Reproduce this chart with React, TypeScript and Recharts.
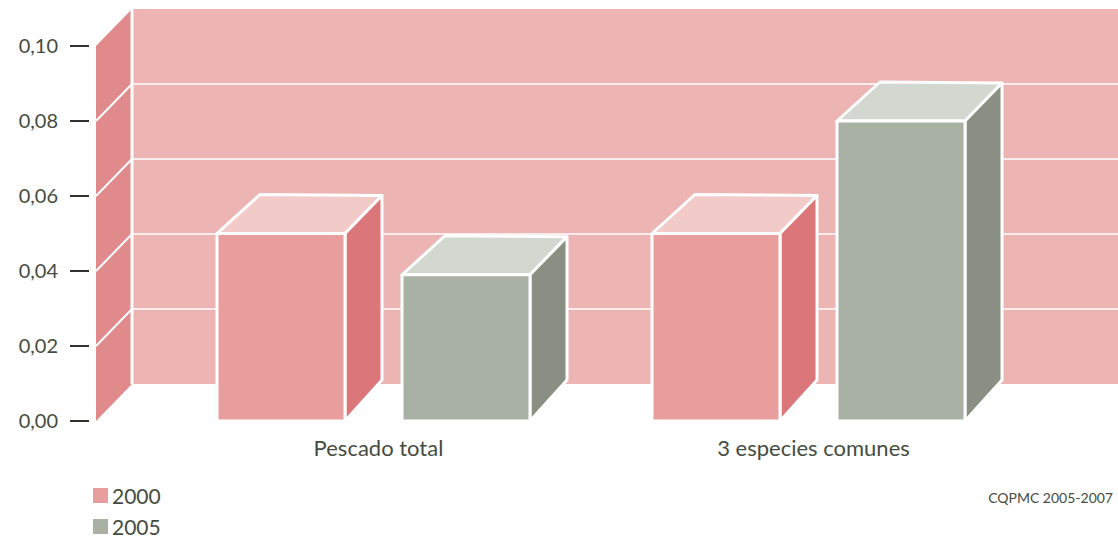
import React from 'react';
import { BarChart, Bar, XAxis, YAxis, CartesianGrid, ReferenceArea } from 'recharts';

const categories = ['Pescado total', '3 especies comunes'];
const values2000 = [0.05, 0.05];
const values2005 = [0.039, 0.08];
const yTicks = [0, 0.02, 0.04, 0.06, 0.08, 0.1];

const chartData = categories.map((name, i) => ({
  name,
  y2000: values2000[i],
  y2005: values2005[i],
}));

const CHART_W = 1118;
const CHART_H = 540;
const X_PAD = 60;
const WALL_DX = 36;
const WALL_DY = -37;
const TEXT = '#454c3f';
const FONT = 'Lato, "Open Sans", sans-serif';

const COLORS: Record<string, { front: string; side: string; top: string }> = {
  y2000: { front: '#e79e9d', side: '#db777a', top: '#f2cbc8' },
  y2005: { front: '#a9b1a5', side: '#899083', top: '#d2d7d0' },
};

// back wall + left wall of the 3D box (area rect excludes the axis padding)
const Walls = (props: any) => {
  const { y, width, height } = props;
  const x = props.x - X_PAD;
  const bottom = y + height;
  return (
    <g>
      <rect x={x + WALL_DX} y={y + WALL_DY} width={width + 2 * X_PAD + 40} height={height} fill="#ecb4b2" />
      <polygon
        points={`${x},${y} ${x + WALL_DX},${y + WALL_DY} ${x + WALL_DX},${bottom + WALL_DY} ${x},${bottom}`}
        fill="#e08a8c"
      />
      <line x1={x + WALL_DX} y1={y + WALL_DY} x2={x + WALL_DX} y2={bottom + WALL_DY} stroke="#fff" strokeWidth={3} />
    </g>
  );
};

const GridLine = (props: any) => {
  const { x1, y1, index } = props;
  if (index === 0 || index === yTicks.length - 1) return <g key={`g-${index}`} />;
  return (
    <g key={`g-${index}`}>
      <line x1={x1} y1={y1} x2={x1 + WALL_DX} y2={y1 + WALL_DY} stroke="#fff" strokeWidth={2} />
      <line x1={x1 + WALL_DX} y1={y1 + WALL_DY} x2={CHART_W} y2={y1 + WALL_DY} stroke="#fff" strokeWidth={1.5} />
    </g>
  );
};

const Box = (props: any) => {
  const { x, y, width, height, dataKey } = props;
  const c = COLORS[dataKey] || COLORS.y2000;
  const r = x + width;
  const b = y + height;
  return (
    <g stroke="#fff" strokeWidth={3} strokeLinejoin="round">
      <polygon points={`${x},${y} ${x + 43},${y - 39} ${r + 37},${y - 38} ${r},${y}`} fill={c.top} />
      <polygon points={`${r},${y} ${r + 37},${y - 38} ${r + 37},${b - 41} ${r},${b}`} fill={c.side} />
      <rect x={x} y={y} width={width} height={height} fill={c.front} />
    </g>
  );
};

const YTick = (props: any) => {
  const { x, y, payload } = props;
  return (
    <g>
      <line x1={x - 19} y1={y} x2={x} y2={y} stroke="#2e332b" strokeWidth={2} />
      <text x={x - 31} y={y} dy="0.35em" textAnchor="end" fill={TEXT} fontSize={20} fontFamily={FONT}>
        {payload.value.toFixed(2).replace('.', ',')}
      </text>
    </g>
  );
};

const XTick = (props: any) => {
  const { x, y, payload } = props;
  return (
    <text x={x + 5} y={y} dy="0.71em" textAnchor="middle" fill={TEXT} fontSize={22} fontFamily={FONT}>
      {payload.value}
    </text>
  );
};

export default function App() {
  return (
    <div style={{ position: 'absolute', left: 0, top: 0, width: CHART_W, height: CHART_H, background: '#fff', fontFamily: FONT }}>
      <BarChart
        width={CHART_W}
        height={CHART_H}
        data={chartData}
        margin={{ top: 46, right: 32, left: 0, bottom: 89 }}
        barSize={128}
        barGap={57}
      >
        <ReferenceArea y1={0} y2={0.1} shape={Walls} zIndex={-200} ifOverflow="visible" />
        <CartesianGrid vertical={false} horizontal={GridLine} />
        <XAxis
          dataKey="name"
          padding={{ left: X_PAD, right: X_PAD }}
          axisLine={false}
          tickLine={false}
          tickSize={0}
          tickMargin={19}
          height={30}
          tick={XTick}
        />
        <YAxis
          domain={[0, 0.1]}
          ticks={yTicks}
          width={96}
          axisLine={false}
          tickLine={false}
          tickSize={7}
          tickMargin={0}
          tick={YTick}
        />
        <Bar dataKey="y2000" fill={COLORS.y2000.front} shape={Box} isAnimationActive={false} />
        <Bar dataKey="y2005" fill={COLORS.y2005.front} shape={Box} isAnimationActive={false} />
      </BarChart>
      <div style={{ position: 'absolute', left: 93, top: 480, color: TEXT, fontSize: 21, lineHeight: '31px' }}>
        <div style={{ display: 'flex', alignItems: 'center' }}>
          <span style={{ width: 15, height: 15, background: COLORS.y2000.front, marginRight: 4 }} />
          2000
        </div>
        <div style={{ display: 'flex', alignItems: 'center' }}>
          <span style={{ width: 15, height: 15, background: COLORS.y2005.front, marginRight: 4 }} />
          2005
        </div>
      </div>
      <div style={{ position: 'absolute', right: 5, top: 489, color: TEXT, fontSize: 14 }}>CQPMC 2005-2007</div>
    </div>
  );
}
